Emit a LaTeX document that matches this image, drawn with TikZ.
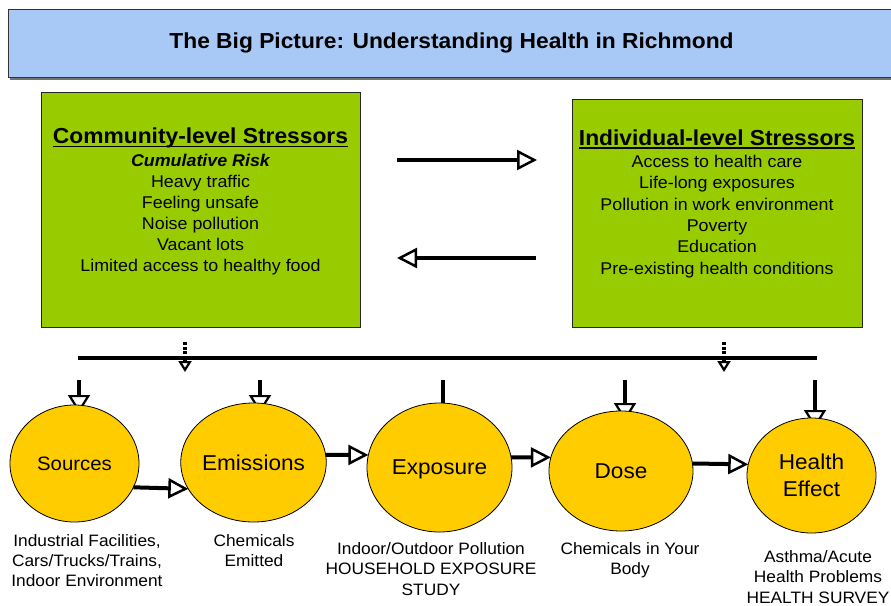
\documentclass[tikz,border=0pt]{standalone}
\usepackage{fontspec}
\setmainfont[FakeStretch=1.05]{Liberation Sans}
\usetikzlibrary{arrows.meta,shapes.geometric}
\definecolor{titleblue}{RGB}{168,200,245}
\definecolor{boxgreen}{RGB}{153,204,0}
\definecolor{circyellow}{RGB}{255,204,0}
\begin{document}
\begin{tikzpicture}[x=1pt,y=-1pt,
  stressbox/.style={rectangle, draw=black!85, line width=0.8pt, fill=boxgreen, inner sep=0pt, outer sep=0pt},
  phase/.style={ellipse, draw=black, line width=0.8pt, fill=circyellow, inner sep=0pt, outer sep=0pt, text depth=0pt, align=center, font=\fontsize{21.5}{26.7}\selectfont},
  flow/.style={line width=4pt, -{Triangle[open,length=20pt,width=20pt,line width=2.5pt]}},
  feed/.style={line width=4pt, -{Triangle[open,length=18pt,width=22pt,line width=2.2pt]}},
  link/.style={line width=3.5pt, dash pattern=on 3pt off 1.6pt, -{Triangle[open,length=11pt,width=13pt,line width=2.2pt]}},
  bodyline/.style={font=\fontsize{17}{21}\selectfont, anchor=base, inner sep=0pt},
  headline/.style={font=\fontsize{21.7}{26}\selectfont\bfseries, anchor=base, inner sep=0pt},
  capline/.style={font=\fontsize{16.5}{20}\selectfont, anchor=base, inner sep=0pt},
]
\useasboundingbox (0,0) rectangle (891,605);

% title
\fill[black!55] (10,77) rectangle (895,79.5);
\node[rectangle, draw=black!80, line width=0.8pt, fill=titleblue, minimum width=887pt, minimum height=68pt, inner sep=0pt,
  font=\fontsize{21.7}{26}\selectfont\bfseries] (title) at (451.5,43) {The Big Picture: Understanding Health in Richmond};

% stressor boxes
\node[stressbox, minimum width=319pt, minimum height=235pt] (cbox) at (200.5,209.5) {};
\node[stressbox, minimum width=290pt, minimum height=228pt] (ibox) at (717,213) {};

\node[headline] (chead) at (200.5,143.3) {Community-level Stressors};
\draw[line width=1.6pt] ([yshift=-3pt]chead.base west) -- ([yshift=-3pt]chead.base east);
\node[bodyline, font=\fontsize{17}{21}\selectfont\bfseries\itshape] (crisk) at (200.5,166) {Cumulative Risk};
\foreach \t [count=\i] in {Heavy traffic, Feeling unsafe, Noise pollution, Vacant lots, Limited access to healthy food}
  \node[bodyline] (cl\i) at (200.5,{166+21.15*\i}) {\t};

\node[headline] (ihead) at (717,145) {Individual-level Stressors};
\draw[line width=1.6pt] ([yshift=-3pt]ihead.base west) -- ([yshift=-3pt]ihead.base east);
\foreach \t [count=\i] in {Access to health care, Life-long exposures, Pollution in work environment, Poverty, Education, Pre-existing health conditions}
  \node[bodyline] (il\i) at (717,{167.3+21.35*(\i-1)}) {\t};

% arrows between the boxes
\coordinate (ta) at (397,160);
\coordinate (tb) at (537,160);
\coordinate (ba) at (536,258);
\coordinate (bb) at (397,258);
\draw[flow] (ta) -- (tb);
\draw[flow] (ba) -- (bb);

% links from the boxes to the bar
\coordinate (lka) at (185,342);
\coordinate (lkb) at (185,372);
\coordinate (lkc) at (724,342);
\coordinate (lkd) at (724,372);
\draw[link] (lka) -- (lkb);
\draw[link] (lkc) -- (lkd);

% bar
\coordinate (barL) at (78,358);
\coordinate (barR) at (817,358);
\draw[line width=4.5pt] (barL) -- (barR);

% feeds into the circles
\coordinate (f1a) at (79,380);  \coordinate (f1b) at (79,413);
\coordinate (f2a) at (260,380); \coordinate (f2b) at (260,413);
\coordinate (f3a) at (443,380); \coordinate (f3b) at (443,424);
\coordinate (f4a) at (625,380); \coordinate (f4b) at (625,421);
\coordinate (f5a) at (815,380); \coordinate (f5b) at (815,428);
\draw[feed] (f1a) -- (f1b);
\draw[feed] (f2a) -- (f2b);
\draw[feed] (f3a) -- (f3b);
\draw[feed] (f4a) -- (f4b);
\draw[feed] (f5a) -- (f5b);

% circles
\node[phase, minimum width=129pt, minimum height=117pt, font=\fontsize{19.4}{24}\selectfont] (src) at (74.5,463.5) {Sources};
\node[phase, minimum width=137pt, minimum height=119pt] (emi) at (253.5,462.5) {Emissions};
\node[phase, minimum width=145pt, minimum height=129pt] (expo) at (439.5,467.5) {Exposure};
\node[phase, minimum width=144pt, minimum height=120pt] (dose) at (621,471) {Dose};
\node[phase, minimum width=129pt, minimum height=115pt] (he) at (811.5,475.5) {Health\\Effect};

\draw[flow] (src.-22) -- (emi.202);
\draw[flow] (emi.6) -- (expo.170);
\draw[flow] (expo.8) -- (dose.169);
\draw[flow] (dose.6.5) -- (he.170);

% captions
\node[capline] (c1a) at (87,546.7) {Industrial Facilities,};
\node[capline] (c1b) at (87,566.5) {Cars/Trucks/Trains,};
\node[capline] (c1c) at (87,586.3) {Indoor Environment};
\node[capline] (c2a) at (254,546.7) {Chemicals};
\node[capline] (c2b) at (254,566.5) {Emitted};
\node[capline] (c3a) at (431,554) {Indoor/Outdoor Pollution};
\node[capline] (c3b) at (431,574.5) {HOUSEHOLD EXPOSURE};
\node[capline] (c3c) at (431,595) {STUDY};
\node[capline] (c4a) at (630,554) {Chemicals in Your};
\node[capline] (c4b) at (630,574.5) {Body};
\node[capline] (c5a) at (818,562.3) {Asthma/Acute};
\node[capline] (c5b) at (818,582.7) {Health Problems};
\node[capline] (c5c) at (818,603) {HEALTH SURVEY};
\end{tikzpicture}
\end{document}
